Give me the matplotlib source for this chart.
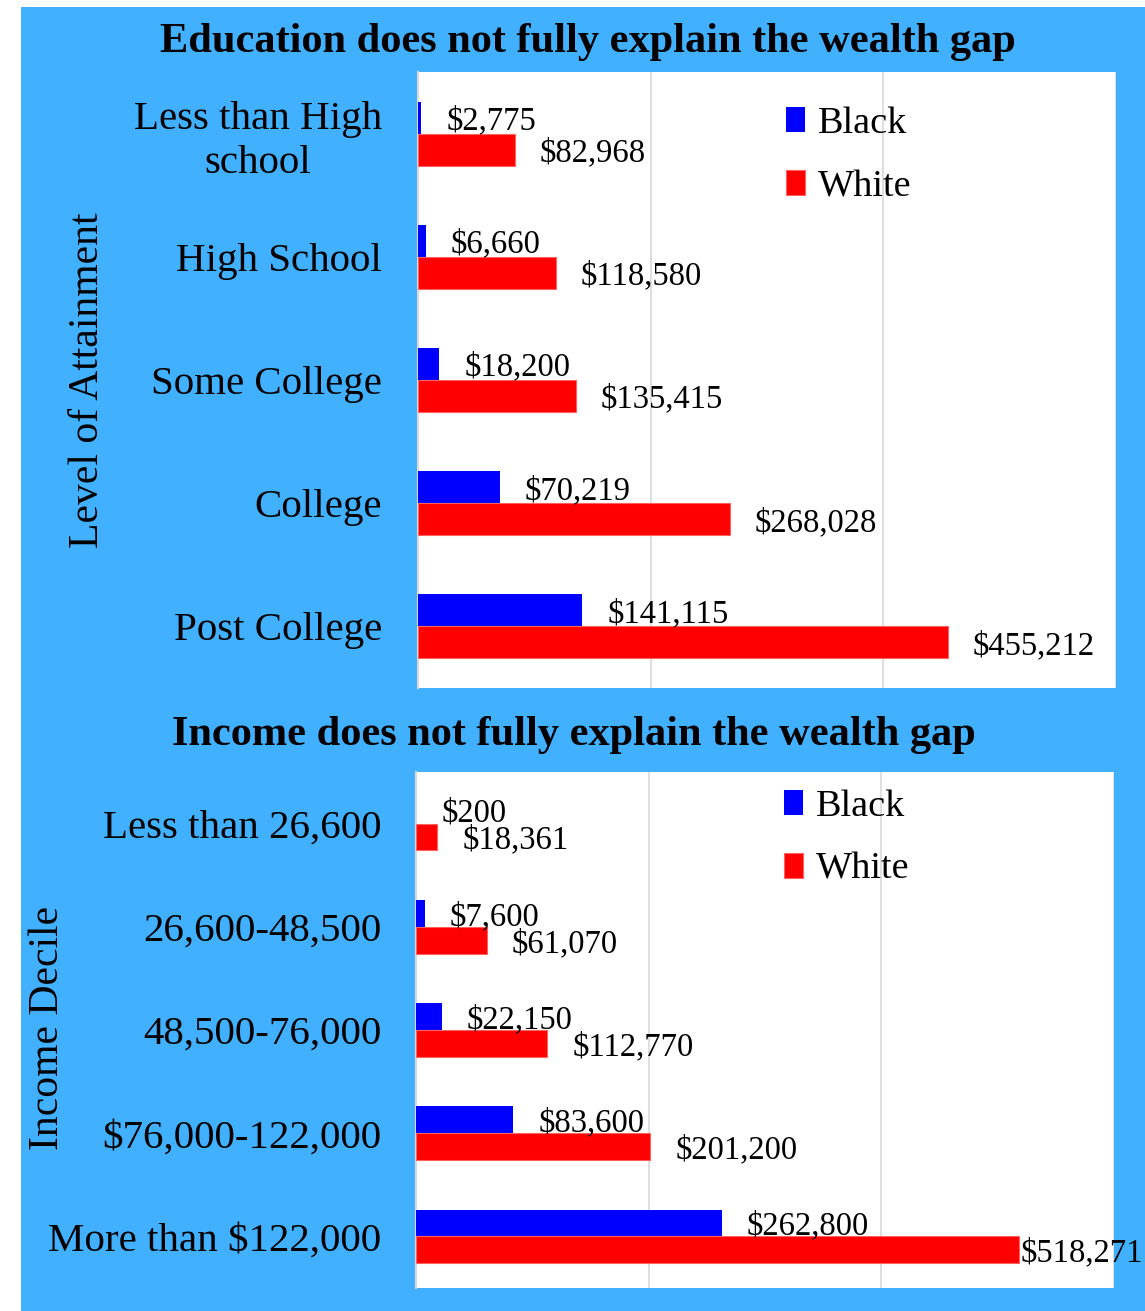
"""
Wealth gap by education and income
----------------------------------

Two horizontal bar charts, Black vs White median wealth.
"""
import matplotlib

matplotlib.use("Agg")
from matplotlib import pyplot as plt
from matplotlib.patches import Rectangle
import numpy as np

# %%
# Data

edu_categories = ["Less than High\nschool", "High School", "Some College",
                  "College", "Post College"]
edu_black = [2775, 6660, 18200, 70219, 141115]
edu_white = [82968, 118580, 135415, 268028, 455212]

inc_categories = ["Less than 26,600", "26,600-48,500", "48,500-76,000",
                  "$76,000-122,000", "More than $122,000"]
inc_black = [200, 7600, 22150, 83600, 262800]
inc_white = [18361, 61070, 112770, 201200, 518271]

series_names = ["Black", "White"]
series_colors = ["#0000FF", "#FF0000"]

# %%
# Figure and background

W, H = 1145, 1311
plt.rcParams["font.family"] = ["Liberation Serif", "DejaVu Serif"]
plt.rcParams["mathtext.default"] = "regular"

fig = plt.figure(figsize=(W / 100, H / 100), dpi=100, facecolor="white")
fig.patches.append(
    Rectangle((21 / W, 0), 1 - 21 / W, 1 - 7 / H, transform=fig.transFigure,
              facecolor="#40B0FF", edgecolor="none", zorder=-10)
)


def px(x0, y0, x1, y1):
    # pixel box (top-left origin) -> figure rect
    return [x0 / W, 1 - y1 / H, (x1 - x0) / W, (y1 - y0) / H]


def bar_panel(ax, categories, black, white, tick_pad):
    y = np.arange(len(categories))
    h = 0.26
    ax.barh(y - h / 2, black, height=h, color=series_colors[0],
            label=series_names[0], zorder=3)
    ax.barh(y + h / 2, white, height=h, color=series_colors[1],
            edgecolor="#FF6060", linewidth=0.8,
            label=series_names[1], zorder=3)

    xmax = 600000
    for vals, off in ((black, -h / 2), (white, h / 2)):
        for yi, v in zip(y, vals):
            dx = 1.5 if v > 0.85 * xmax else 18
            ax.annotate(f"${v:,.0f}", (v, yi + off), xytext=(dx, -2.5),
                        textcoords="offset points", ha="left", va="center",
                        fontsize=23.5, color="black", zorder=4,
                        annotation_clip=False)

    ax.set_xlim(0, xmax)
    ax.set_ylim(len(categories) - 0.5, -0.5)
    ax.set_xticks([0, 200000, 400000, 600000])
    ax.set_xticklabels([])
    ax.tick_params(axis="x", length=0)
    ax.set_yticks(y)
    ax.set_yticklabels(categories, fontsize=29.5, multialignment="center",
                       linespacing=1.25)
    ax.tick_params(axis="y", length=0, pad=tick_pad)
    ax.grid(axis="x", color="#D9D9D9", linewidth=1.2, zorder=0)
    for side in ("top", "right", "bottom"):
        ax.spines[side].set_visible(False)
    ax.spines["left"].set_color("#D9D9D9")
    ax.spines["left"].set_linewidth(1.5)
    ax.set_facecolor("white")


def add_legend(ax, y_anchor):
    ax.legend(loc="upper left", bbox_to_anchor=(0.505, y_anchor),
              frameon=False, fontsize=27.5, handlelength=0.5,
              handleheight=0.6, handletextpad=0.35, labelspacing=0.75,
              borderaxespad=0)


# %%
# Education panel

ax1 = fig.add_axes(px(418, 72, 1116, 688))
bar_panel(ax1, edu_categories, edu_black, edu_white, tick_pad=26)
add_legend(ax1, 0.969)
fig.text(588 / W, 1 - 42 / H, "Education does not fully explain the wealth gap",
         ha="center", va="center", fontsize=30.5, fontweight="bold")
fig.text(88 / W, 1 - 380 / H, "Level of Attainment", rotation=90,
         ha="center", va="center", fontsize=30)

# %%
# Income panel

ax2 = fig.add_axes(px(416, 772, 1114, 1288))
bar_panel(ax2, inc_categories, inc_black, inc_white, tick_pad=25)
add_legend(ax2, 0.996)
fig.text(574 / W, 1 - 735 / H, "Income does not fully explain the wealth gap",
         ha="center", va="center", fontsize=30.5, fontweight="bold")
fig.text(48 / W, 1 - 1028 / H, "Income Decile", rotation=90,
         ha="center", va="center", fontsize=30)

fig.savefig("out.png", dpi=100, facecolor=fig.get_facecolor())
